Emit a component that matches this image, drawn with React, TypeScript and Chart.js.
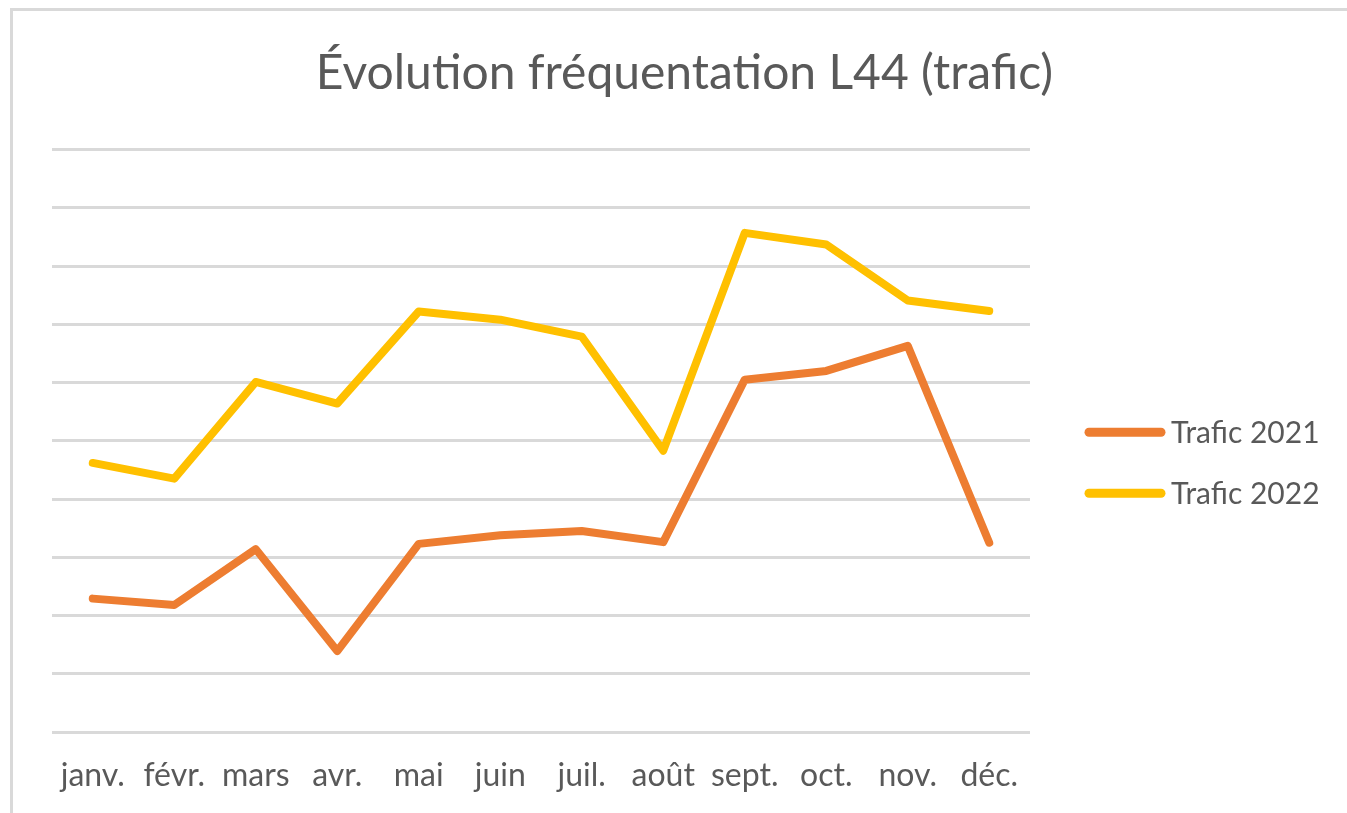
import React, { useEffect, useRef } from "react";
import { Chart, registerables } from "chart.js";

Chart.register(...registerables);

const TITLE = "Évolution fréquentation L44 (trafic)";
const MONTHS = ["janv.", "févr.", "mars", "avr.", "mai", "juin", "juil.", "août", "sept.", "oct.", "nov.", "déc."];
const TRAFIC_2021 = [2.29, 2.18, 3.14, 1.39, 3.23, 3.38, 3.45, 3.26, 6.05, 6.2, 6.63, 3.25];
const TRAFIC_2022 = [4.62, 4.35, 6.01, 5.64, 7.22, 7.08, 6.79, 4.83, 8.57, 8.37, 7.41, 7.23];
const SERIES_LABELS = ["Trafic 2021", "Trafic 2022"];
const SERIES_COLORS = ["#ED7D31", "#FFC000"];

const FONT = "Lato, 'Open Sans', sans-serif";
const TEXT = "#595959";

const legendPlugin = {
  id: "sideLegend",
  afterDraw(chart: any) {
    const { ctx, chartArea } = chart;
    const x0 = chartArea.right + 55;
    const midY = (chartArea.top + chartArea.bottom) / 2 + 22;
    const gap = 61;
    const n = chart.data.datasets.length;
    ctx.save();
    chart.data.datasets.forEach((ds: any, i: number) => {
      const y = midY + (i - (n - 1) / 2) * gap;
      ctx.strokeStyle = ds.borderColor;
      ctx.lineWidth = 9;
      ctx.lineCap = "round";
      ctx.beginPath();
      ctx.moveTo(x0 + 4, y);
      ctx.lineTo(x0 + 76, y);
      ctx.stroke();
      ctx.fillStyle = TEXT;
      ctx.font = `30px ${FONT}`;
      ctx.textBaseline = "middle";
      ctx.textAlign = "left";
      ctx.fillText(ds.label, x0 + 86, y + 1);
    });
    ctx.restore();
  },
};

export default function App() {
  const ref = useRef<HTMLCanvasElement | null>(null);

  useEffect(() => {
    if (!ref.current) return;
    const chart = new Chart(ref.current, {
      type: "line",
      data: {
        labels: MONTHS,
        datasets: [
          {
            label: SERIES_LABELS[0],
            data: TRAFIC_2021,
            borderColor: SERIES_COLORS[0],
            backgroundColor: SERIES_COLORS[0],
            borderWidth: 8,
            pointRadius: 0,
            borderCapStyle: "round",
            borderJoinStyle: "round",
            tension: 0,
          },
          {
            label: SERIES_LABELS[1],
            data: TRAFIC_2022,
            borderColor: SERIES_COLORS[1],
            backgroundColor: SERIES_COLORS[1],
            borderWidth: 8,
            pointRadius: 0,
            borderCapStyle: "round",
            borderJoinStyle: "round",
            tension: 0,
          },
        ],
      },
      options: {
        animation: false,
        responsive: false,
        maintainAspectRatio: false,
        layout: { padding: { left: 22, right: 0, top: 0, bottom: 0 } },
        plugins: {
          legend: { display: false },
          tooltip: { enabled: false },
          title: {
            display: true,
            text: TITLE,
            color: TEXT,
            font: { family: FONT, size: 48, weight: "normal" },
            padding: { top: 45, bottom: 47 },
          },
        },
        scales: {
          x: {
            offset: true,
            grid: { display: false },
            border: { display: false },
            ticks: {
              color: TEXT,
              font: { family: FONT, size: 32 },
              padding: 16,
              maxRotation: 0,
              autoSkip: false,
            },
            afterFit: (s: any) => {
              s.height = 81;
            },
          },
          y: {
            min: 0,
            max: 10,
            ticks: { display: false, stepSize: 1 },
            border: { display: false },
            grid: { color: "#D9D9D9", lineWidth: 3, drawTicks: false },
            afterFit: (s: any) => {
              s.width = 30;
            },
          },
          yRight: {
            position: "right",
            display: true,
            ticks: { display: false },
            grid: { display: false },
            border: { display: false },
            afterFit: (s: any) => {
              s.width = 317;
            },
          },
        },
      },
      plugins: [legendPlugin],
    } as any);
    return () => chart.destroy();
  }, []);

  return (
    <div style={{ position: "absolute", left: 0, top: 0, width: 1347, height: 813, background: "#fff", overflow: "hidden" }}>
      <div
        style={{
          position: "absolute",
          left: 10,
          top: 8,
          width: 1400,
          height: 900,
          borderLeft: "3px solid #D9D9D9",
          borderTop: "3px solid #D9D9D9",
        }}
      />
      <canvas ref={ref} width={1347} height={813} style={{ position: "absolute", left: 0, top: 0 }} />
    </div>
  );
}
